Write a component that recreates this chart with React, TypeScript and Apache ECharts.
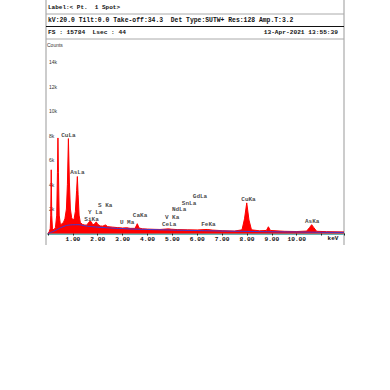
import React, { useEffect, useRef } from "react";
import * as echarts from "echarts";

// keV, counts — measured spectrum (red)
const spectrum: [number, number][] = [
  [0, 0], [0.05, 150], [0.09, 400], [0.11, 1500], [0.13, 5200], [0.15, 1500], [0.18, 400],
  [0.24, 300], [0.3, 500], [0.35, 1500], [0.38, 5000], [0.4, 7800], [0.42, 5000], [0.45, 1500],
  [0.5, 700], [0.56, 800], [0.62, 900], [0.68, 1200], [0.74, 2000], [0.78, 4000], [0.82, 7750],
  [0.86, 4200], [0.9, 2000], [0.95, 1300], [1.0, 1100], [1.05, 1200], [1.1, 1800], [1.15, 3500],
  [1.18, 4650], [1.21, 3200], [1.25, 1500], [1.3, 900], [1.38, 750], [1.45, 700], [1.55, 680],
  [1.62, 850], [1.68, 1000], [1.74, 950], [1.8, 700], [1.88, 800], [1.94, 950], [2.0, 750],
  [2.1, 620], [2.2, 600], [2.31, 700], [2.4, 560], [2.6, 520], [2.8, 480], [3.0, 450], [3.17, 470],
  [3.3, 420], [3.5, 420], [3.59, 800], [3.66, 450], [3.8, 380], [4.0, 360], [4.3, 340], [4.5, 330],
  [4.85, 380], [4.95, 350], [5.2, 320], [5.6, 300], [6.0, 290], [6.4, 330], [6.6, 280], [7.0, 230],
  [7.5, 200], [7.8, 300], [7.9, 1200], [7.99, 2500], [8.08, 1100], [8.18, 300], [8.5, 220],
  [8.78, 250], [8.86, 550], [8.94, 250], [9.5, 180], [10.0, 160], [10.4, 200], [10.52, 500],
  [10.6, 720], [10.68, 500], [10.8, 180], [11.2, 150], [11.9, 130],
];

// keV, counts — fitted background (blue)
const background: [number, number][] = [
  [0, 0], [0.3, 250], [0.6, 550], [0.9, 700], [1.2, 720], [1.5, 620], [2.0, 520], [3.0, 400],
  [4.0, 330], [5.0, 280], [6.0, 240], [7.0, 200], [8.0, 170], [9.0, 140], [10.0, 120], [11.0, 100],
  [11.9, 90],
];

// peak labels: name, keV, counts (label anchor)
const peakNames = ["CuLa", "AsLa", "S Ka", "Y La", "SiKa", "U Ma", "CaKa", "V Ka", "CeLa", "NdLa", "SnLa", "GdLa", "FeKa", "CuKa", "AsKa"];
const peakKeV = [0.82, 1.18, 2.3, 1.9, 1.75, 3.18, 3.7, 4.99, 4.87, 5.27, 5.67, 6.11, 6.45, 8.06, 10.62];
const peakCounts = [8040, 4960, 2245, 1730, 1160, 880, 1430, 1290, 750, 1920, 2465, 3060, 775, 2790, 960];

const headerLabel = "Label:< Pt.  1 Spot>";
const headerKv = "kV:20.0 Tilt:0.0 Take-off:34.3  Det Type:SUTW+ Res:128 Amp.T:3.2";
const headerFs = "FS : 15784  Lsec : 44";
const headerDate = "13-Apr-2021 13:55:39";

const MONO = "'Liberation Mono', 'DejaVu Sans Mono', monospace";

export default function App() {
  const ref = useRef<HTMLDivElement>(null);
  useEffect(() => {
    if (!ref.current) return;
    const chart = echarts.init(ref.current, null, { renderer: "svg" });
    const txt = (x: number, y: number, text: string, size = 6, extra: any = {}) => ({
      type: "text",
      x,
      y,
      silent: true,
      style: {
        text,
        fontFamily: MONO,
        fontWeight: "bold",
        fontSize: size,
        fill: "#111",
        verticalAlign: "middle",
        ...extra,
      },
    });
    const ln = (x1: number, y1: number, x2: number, y2: number, stroke: string, w = 1) => ({
      type: "line",
      silent: true,
      shape: { x1, y1, x2, y2 },
      style: { stroke, lineWidth: w },
    });
    chart.setOption({
      animation: false,
      backgroundColor: "#fff",
      grid: { left: 48, right: 46, top: 37.5, bottom: 156.5 },
      xAxis: {
        type: "value",
        min: 0,
        max: 11.9,
        interval: 1,
        splitLine: { show: false },
        axisLine: { show: true, lineStyle: { color: "#66b3b3", width: 2 } },
        axisTick: { show: true, length: 2, lineStyle: { color: "#222" } },
        axisLabel: {
          margin: 3,
          fontSize: 6.2,
          fontFamily: MONO,
          fontWeight: "bold",
          color: "#111",
          formatter: (v: number) => (v === 0 || v > 10.5 ? "" : v.toFixed(2)),
        },
      },
      yAxis: {
        type: "value",
        min: 0,
        max: 16000,
        interval: 2000,
        splitLine: { show: false },
        axisLine: { show: false },
        axisTick: { show: false },
        axisLabel: {
          inside: true,
          margin: 1,
          fontSize: 5,
          fontFamily: "'Liberation Sans', sans-serif",
          color: "#333",
          formatter: (v: number) => (v === 0 || v > 14000 ? "" : v / 1000 + "k"),
        },
      },
      series: [
        {
          type: "line",
          data: spectrum,
          symbol: "none",
          lineStyle: { color: "#ff0000", width: 1 },
          areaStyle: { color: "#ff0000", opacity: 1 },
          z: 2,
        },
        {
          type: "line",
          data: background,
          symbol: "none",
          smooth: true,
          lineStyle: { color: "#3b3bd6", width: 1 },
          z: 3,
        },
        {
          type: "scatter",
          symbolSize: 0,
          itemStyle: { color: "#111" },
          data: peakNames.map((n, i) => ({ name: n, value: [peakKeV[i], peakCounts[i]] })),
          label: {
            show: true,
            position: [0, 0],
            align: "center",
            verticalAlign: "middle",
            formatter: (p: any) => p.name,
            fontSize: 6,
            fontFamily: MONO,
            fontWeight: "bold",
            color: "#111",
            textBorderWidth: 0,
            textBorderColor: "transparent",
          },
          z: 4,
        },
      ],
      graphic: [
        ln(46, 0, 46, 245, "#999"),
        ln(344, 0, 344, 245, "#999"),
        ln(46, 14, 344, 14, "#aaa"),
        ln(46, 26.5, 344, 26.5, "#111", 1.2),
        ln(46, 39, 344, 39, "#aaa"),
        txt(48, 7, headerLabel, 6),
        txt(48, 20, headerKv, 6.4),
        txt(48, 32.5, headerFs, 6.2),
        txt(338, 32.5, headerDate, 6.2, { align: "right" }),
        {
          type: "text",
          x: 47,
          y: 45,
          silent: true,
          style: {
            text: "Counts",
            fontFamily: "'Liberation Sans', sans-serif",
            fontSize: 5,
            fill: "#333",
            verticalAlign: "middle",
          },
        },
        txt(333, 238.5, "keV", 6, { align: "center" }),
      ],
    });
    return () => chart.dispose();
  }, []);
  return (
    <div
      ref={ref}
      style={{ position: "fixed", left: 0, top: 0, width: 390, height: 390, background: "#fff" }}
    />
  );
}
